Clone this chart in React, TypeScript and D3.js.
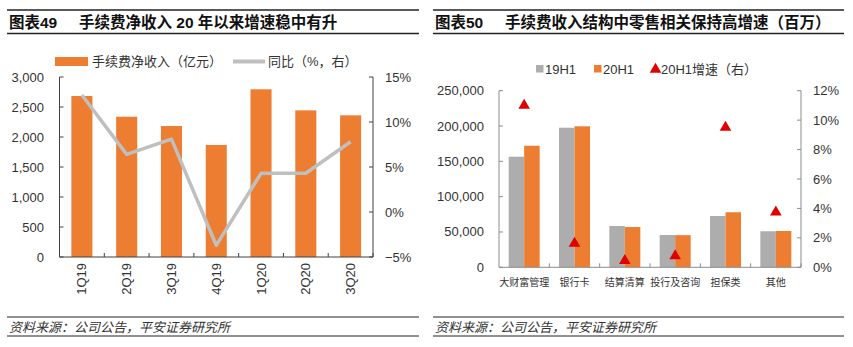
import React from "react";
import * as d3 from "d3";

// ---- Left chart data ----
const quarters = ["1Q19", "2Q19", "3Q19", "4Q19", "1Q20", "2Q20", "3Q20"];
const feeIncome = [2683, 2338, 2183, 1867, 2795, 2444, 2361];
const yoy = [13.0, 6.4, 8.1, -3.7, 4.3, 4.3, 7.8];
const leftTicks = [0, 500, 1000, 1500, 2000, 2500, 3000];
const leftPctTicks = [-5, 0, 5, 10, 15];

// ---- Right chart data ----
const segments = ["大财富管理", "银行卡", "结算清算", "投行及咨询", "担保类", "其他"];
const h119 = [156600, 197600, 58500, 45700, 72600, 51000];
const h120 = [172100, 199600, 57000, 45500, 77900, 51400];
const growth = [11.0, 1.63, 0.45, 0.77, 9.5, 3.74];
const rightTicks = [0, 50000, 100000, 150000, 200000, 250000];
const rightPctTicks = [0, 2, 4, 6, 8, 10, 12];

const ORANGE = "#ED7D31";
const GRAY_LINE = "#BFBFBF";
const GRAY_BAR = "#ADADAD";
const RED = "#E00000";
const CJK = "'Liberation Sans', Arial, 'Noto Sans CJK SC', sans-serif";
const TXT = "#333";

function Header({ x0, x1, label, title, titleX }: any) {
  return (
    <g>
      <line x1={x0} x2={x1} y1={10} y2={10} stroke="#222" strokeWidth={1.3} />
      <text x={x0 + 2} y={28} fontFamily={CJK} fontSize={15.5} fontWeight="bold" fill="#111">{label}</text>
      <text x={titleX} y={28} fontFamily={CJK} fontSize={15.5} fontWeight="bold" fill="#111">{title}</text>
      <line x1={x0} x2={x1} y1={33.5} y2={33.5} stroke="#222" strokeWidth={1.3} />
    </g>
  );
}

function Footer({ x0, x1 }: any) {
  return (
    <g>
      <line x1={x0} x2={x1} y1={317} y2={317} stroke="#222" strokeWidth={1} />
      <text x={x0 + 2} y={332} fontFamily={CJK} fontSize={13} fontStyle="italic" fill={TXT}>资料来源：公司公告，平安证券研究所</text>
      <line x1={x0} x2={x1} y1={336} y2={336} stroke="#222" strokeWidth={1} />
    </g>
  );
}

function LeftChart() {
  const xL = 59.5, xR = 373, yT = 77, yB = 257;
  const x = d3.scaleBand<string>().domain(quarters).range([xL, xR]).padding(0);
  const step = x.step();
  const bw = step * 0.47;
  const y = d3.scaleLinear().domain([0, 3000]).range([yB, yT]);
  const yr = d3.scaleLinear().domain([-5, 15]).range([yB, yT]);
  const line = d3.line<number>()
    .x((_, i) => (x(quarters[i]) as number) + step / 2)
    .y((d) => yr(d));
  const axisColor = "#404040";
  return (
    <g>
      <Header x0={7} x1={419} label="图表49" title="手续费净收入 20 年以来增速稳中有升" titleX={79} />
      {/* legend */}
      <rect x={55} y={57} width={33} height={9} fill={ORANGE} />
      <text x={92} y={66} fontFamily={CJK} fontSize={13} fill={TXT}>手续费净收入（亿元）</text>
      <line x1={233} x2={265} y1={61.5} y2={61.5} stroke={GRAY_LINE} strokeWidth={4} />
      <text x={268} y={66} fontFamily={CJK} fontSize={13} fill={TXT}>同比（%，右）</text>
      {/* bars */}
      {feeIncome.map((v, i) => (
        <rect key={i} x={(x(quarters[i]) as number) + (step - bw) / 2} y={y(v)} width={bw} height={yB - y(v)} fill={ORANGE} />
      ))}
      {/* line */}
      <path d={line(yoy) as string} fill="none" stroke={GRAY_LINE} strokeWidth={3.5} strokeLinejoin="round" />
      {/* axes */}
      <line x1={xL} x2={xL} y1={yT} y2={yB} stroke={axisColor} />
      <line x1={xR} x2={xR} y1={yT} y2={yB} stroke={axisColor} />
      <line x1={xL} x2={xR} y1={yB} y2={yB} stroke={axisColor} />
      {leftTicks.map((t) => (
        <g key={t}>
          <line x1={xL} x2={xL + 4} y1={y(t)} y2={y(t)} stroke={axisColor} />
          <text x={44} y={y(t) + 4.5} textAnchor="end" fontFamily={CJK} fontSize={13} fill={TXT}>{d3.format(",")(t)}</text>
        </g>
      ))}
      {leftPctTicks.map((t) => (
        <g key={t}>
          <line x1={xR - 4} x2={xR} y1={yr(t)} y2={yr(t)} stroke={axisColor} />
          <text x={385} y={yr(t) + 4.5} fontFamily={CJK} fontSize={13} fill={TXT}>{t < 0 ? "\u2212" + Math.abs(t) + "%" : t + "%"}</text>
        </g>
      ))}
      {quarters.map((q, i) => (
        <line key={q} x1={xL + step * (i + 1)} x2={xL + step * (i + 1)} y1={yB} y2={yB - 4} stroke={axisColor} />
      ))}
      {quarters.map((q) => {
        const cx = (x(q) as number) + step / 2;
        return (
          <text key={q} transform={`translate(${cx + 4.5},263) rotate(-90)`} textAnchor="end" fontFamily={CJK} fontSize={13} fill={TXT}>{q}</text>
        );
      })}
      <Footer x0={7} x1={419} />
    </g>
  );
}

function RightChart() {
  const xL = 499, xR = 801, yT = 90.7, yB = 267.3;
  const x = d3.scaleBand<string>().domain(segments).range([xL, xR]).padding(0);
  const step = x.step();
  const bw = 15.5;
  const y = d3.scaleLinear().domain([0, 250000]).range([yB, yT]);
  const yr = d3.scaleLinear().domain([0, 12]).range([yB, yT]);
  const axisColor = "#8C8C8C";
  const tri = d3.symbol().type(d3.symbolTriangle).size(58);
  return (
    <g>
      <Header x0={433} x1={844} label="图表50" title="手续费收入结构中零售相关保持高增速（百万）" titleX={505} />
      {/* legend */}
      <rect x={536} y={65} width={7.5} height={7.5} fill={GRAY_BAR} />
      <text x={545} y={73.5} fontFamily={CJK} fontSize={13} fill={TXT}>19H1</text>
      <rect x={594} y={65} width={7.5} height={7.5} fill={ORANGE} />
      <text x={603} y={73.5} fontFamily={CJK} fontSize={13} fill={TXT}>20H1</text>
      <path d={tri() as string} transform="translate(655.5,69.5)" fill={RED} />
      <text x={661} y={73.5} fontFamily={CJK} fontSize={13} fill={TXT}>20H1增速（右）</text>
      {/* bars */}
      {segments.map((s, i) => {
        const cx = (x(s) as number) + step / 2;
        return (
          <g key={s}>
            <rect x={cx - bw} y={y(h119[i])} width={bw} height={yB - y(h119[i])} fill={GRAY_BAR} />
            <rect x={cx} y={y(h120[i])} width={bw} height={yB - y(h120[i])} fill={ORANGE} />
          </g>
        );
      })}
      {/* axes */}
      <line x1={xL} x2={xL} y1={yT} y2={yB} stroke={axisColor} />
      <line x1={xR} x2={xR} y1={yT} y2={yB} stroke={axisColor} />
      <line x1={xL} x2={xR} y1={yB} y2={yB} stroke={axisColor} />
      {rightTicks.map((t) => (
        <g key={t}>
          <line x1={xL} x2={xL + 4} y1={y(t)} y2={y(t)} stroke={axisColor} />
          <text x={484} y={y(t) + 4.5} textAnchor="end" fontFamily={CJK} fontSize={13} fill={TXT}>{d3.format(",")(t)}</text>
        </g>
      ))}
      {rightPctTicks.map((t) => (
        <g key={t}>
          <line x1={xR - 4} x2={xR} y1={yr(t)} y2={yr(t)} stroke={axisColor} />
          <text x={813} y={yr(t) + 4.5} fontFamily={CJK} fontSize={13} fill={TXT}>{t + "%"}</text>
        </g>
      ))}
      {segments.map((s, i) => (
        <line key={s} x1={xL + step * (i + 1)} x2={xL + step * (i + 1)} y1={yB} y2={yB - 4} stroke={axisColor} />
      ))}
      {/* growth markers */}
      {segments.map((s, i) => {
        const cx = (x(s) as number) + step / 2;
        return <path key={s} d={tri() as string} transform={`translate(${cx},${yr(growth[i])})`} fill={RED} />;
      })}
      {segments.map((s) => {
        const cx = (x(s) as number) + step / 2;
        return (
          <text key={s} x={cx} y={286} textAnchor="middle" fontFamily={CJK} fontSize={10} fill={TXT}>{s}</text>
        );
      })}
      <Footer x0={433} x1={844} />
    </g>
  );
}

export default function App() {
  return (
    <svg width={853} height={347} style={{ position: "absolute", left: 0, top: 0, background: "#fff" }}>
      <rect width={853} height={347} fill="#fff" />
      <LeftChart />
      <RightChart />
    </svg>
  );
}
